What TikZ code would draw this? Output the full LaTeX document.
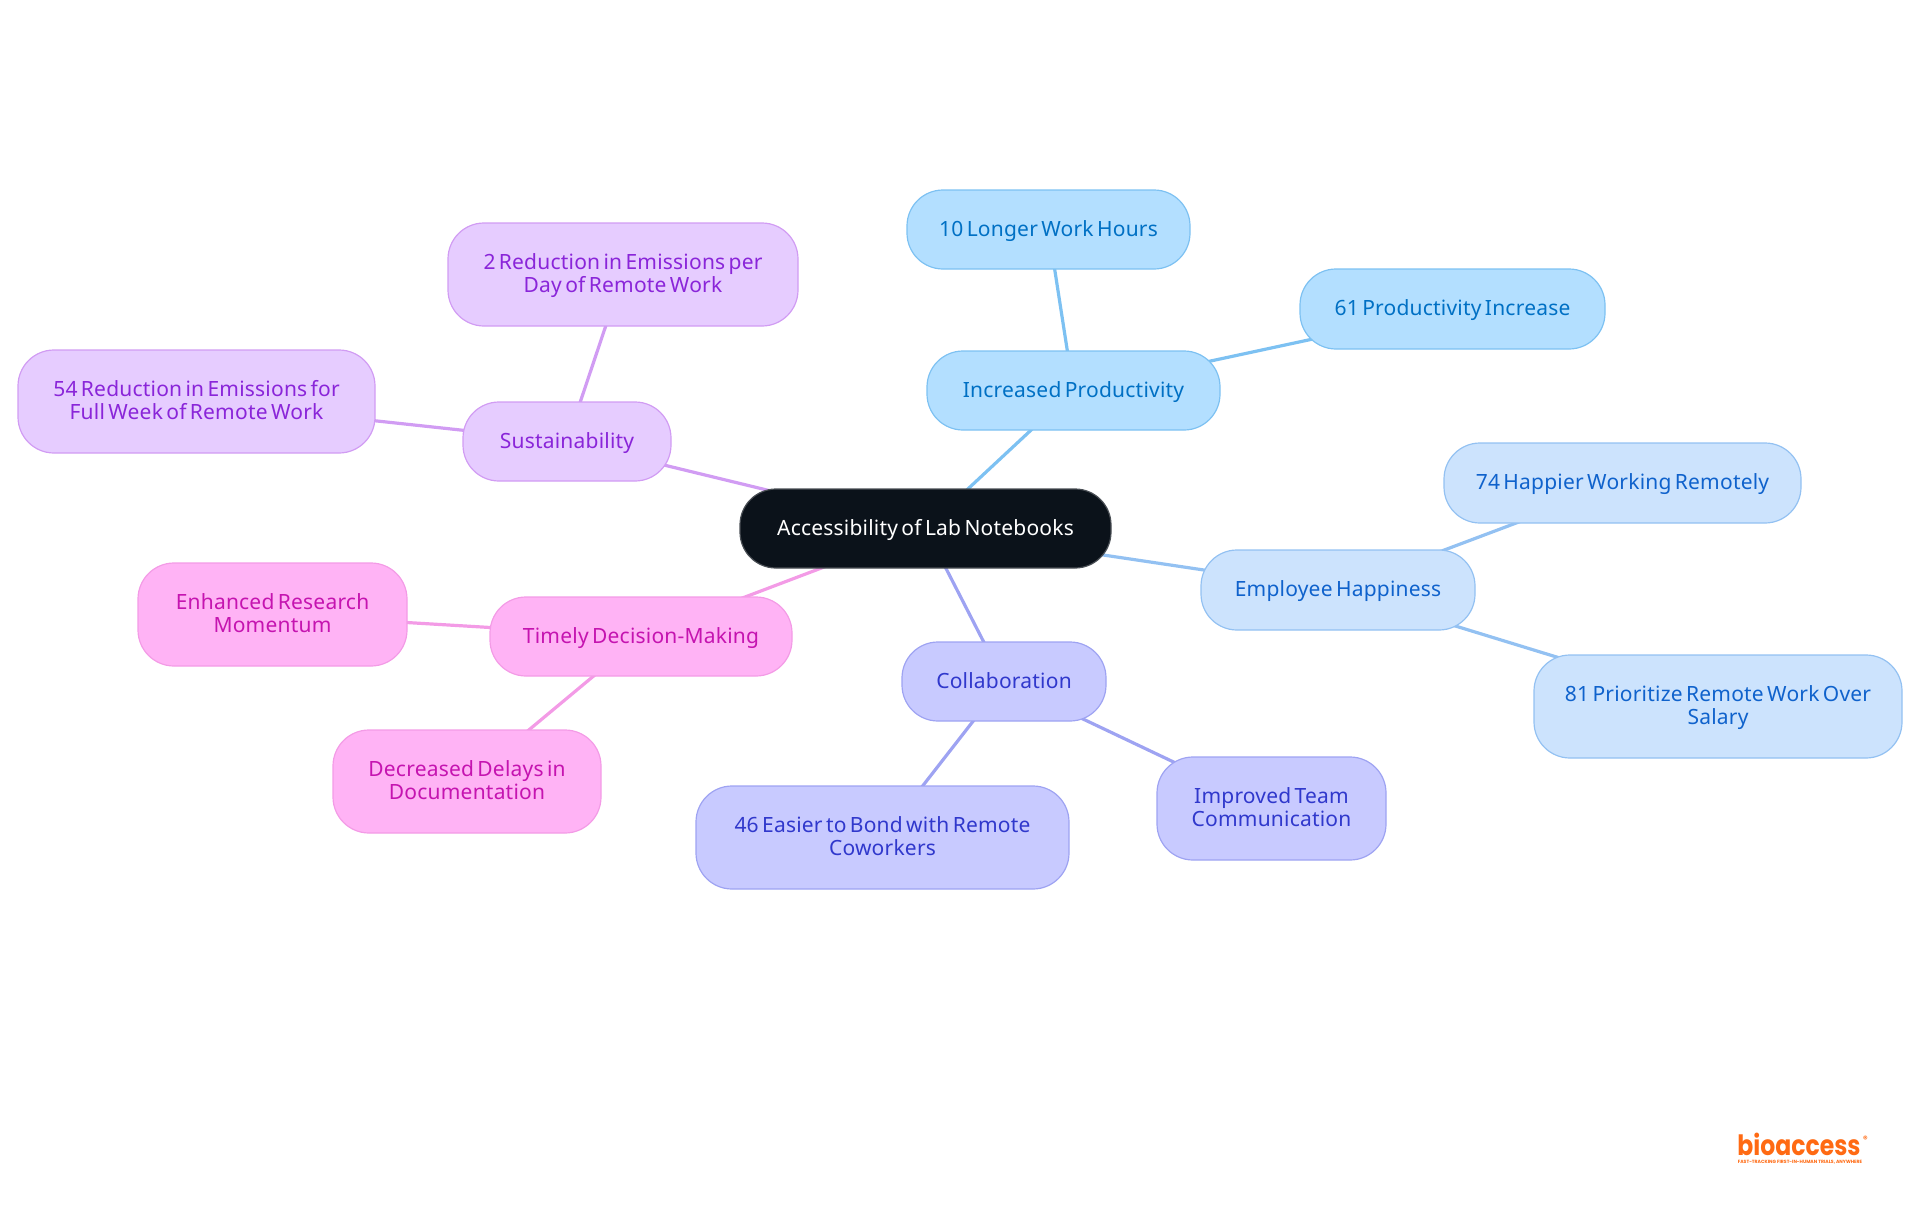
\documentclass[tikz,border=0pt]{standalone}
\usepackage{fontspec}
\setmainfont{Noto Sans}[WordSpace=0.6,LetterSpace=1.0]
\newfontfamily\logofont{Poppins}
\usetikzlibrary{backgrounds}
\definecolor{rootfill}{HTML}{0B121A}
\definecolor{rootline}{HTML}{4A4F55}
\definecolor{prodfill}{HTML}{B3DFFF}\definecolor{prodline}{HTML}{7DC1F2}\definecolor{prodtext}{HTML}{0070C4}
\definecolor{hapfill}{HTML}{CCE3FD}\definecolor{hapline}{HTML}{93C1F2}\definecolor{haptext}{HTML}{0F62CC}
\definecolor{colfill}{HTML}{C8CAFF}\definecolor{colline}{HTML}{9EA3F2}\definecolor{coltext}{HTML}{3038CC}
\definecolor{timfill}{HTML}{FFB3F5}\definecolor{timline}{HTML}{F39BE6}\definecolor{timtext}{HTML}{C514B0}
\definecolor{susfill}{HTML}{E6CCFF}\definecolor{susline}{HTML}{D19CF3}\definecolor{sustext}{HTML}{8A25D9}
\definecolor{logoorange}{HTML}{FF6A13}
\newcommand\tops{\rule{0pt}{18.5pt}}
\newcommand\bots{\rule[-5pt]{0pt}{5pt}}
\tikzset{
  x=1pt,y=-1pt,
  mapbox/.style={draw,line width=1.2pt,rounded corners=36pt,inner sep=0pt,align=center,
    font=\fontsize{21}{23}\selectfont},
  rootbox/.style={mapbox,fill=rootfill,draw=rootline,text=white},
  prodbox/.style={mapbox,fill=prodfill,draw=prodline,text=prodtext},
  hapbox/.style={mapbox,fill=hapfill,draw=hapline,text=haptext},
  colbox/.style={mapbox,fill=colfill,draw=colline,text=coltext},
  timbox/.style={mapbox,fill=timfill,draw=timline,text=timtext},
  susbox/.style={mapbox,fill=susfill,draw=susline,text=sustext},
  link/.style={line width=3.2pt},
  sz/.style n args={2}{minimum width=#1pt,minimum height=#2pt},
}
\begin{document}
\begin{tikzpicture}
\useasboundingbox (0,0) rectangle (1920,1215);
\node[rootbox,sz={371}{79}] (root) at (925.5,528.5) {\tops Accessibility of Lab Notebooks\bots};
\node[prodbox,sz={293}{79}] (ip) at (1073.5,390.5) {\tops Increased Productivity\bots};
\node[prodbox,sz={283}{79}] (lh) at (1048.5,229.5) {\tops 10 Longer Work Hours\bots};
\node[prodbox,sz={305}{80}] (pi) at (1452.5,309) {\tops 61 Productivity Increase\bots};
\node[hapbox,sz={274}{80}] (eh) at (1338,590) {\tops Employee Happiness\bots};
\node[hapbox,sz={357}{80}] (hw) at (1622.5,483) {\tops 74 Happier Working Remotely\bots};
\node[hapbox,sz={368}{103}] (pr) at (1718,706.5) {\tops 81 Prioritize Remote Work Over\\Salary\bots};
\node[colbox,sz={204}{79}] (co) at (1004,681.5) {\tops Collaboration\bots};
\node[colbox,sz={373}{103}] (eb) at (882.5,837.5) {\tops 46 Easier to Bond with Remote\\Coworkers\bots};
\node[colbox,sz={229}{103}] (it) at (1271.5,808.5) {\tops Improved Team\\Communication\bots};
\node[timbox,sz={302}{79}] (td) at (641,636.5) {\tops Timely Decision-Making\bots};
\node[timbox,sz={269}{103}] (er) at (272.5,614.5) {\tops Enhanced Research\\Momentum\bots};
\node[timbox,sz={268}{103}] (dd) at (467,781.5) {\tops Decreased Delays in\\Documentation\bots};
\node[susbox,sz={208}{79}] (su) at (567,441.5) {\tops Sustainability\bots};
\node[susbox,sz={350}{103}] (rd) at (623,274.5) {\tops 2 Reduction in Emissions per\\Day of Remote Work\bots};
\node[susbox,sz={357}{103}] (rw) at (196.5,401.5) {\tops 54 Reduction in Emissions for\\Full Week of Remote Work\bots};
\begin{scope}[on background layer]
\draw[link,prodline] (root.center) -- (ip.center);
\draw[link,prodline] (ip.center) -- (lh.center);
\draw[link,prodline] (ip.center) -- (pi.center);
\draw[link,hapline] (root.center) -- (eh.center);
\draw[link,hapline] (eh.center) -- (hw.center);
\draw[link,hapline] (eh.center) -- (pr.center);
\draw[link,colline] (root.center) -- (co.center);
\draw[link,colline] (co.center) -- (eb.center);
\draw[link,colline] (co.center) -- (it.center);
\draw[link,timline] (root.center) -- (td.center);
\draw[link,timline] (td.center) -- (er.center);
\draw[link,timline] (td.center) -- (dd.center);
\draw[link,susline] (root.center) -- (su.center);
\draw[link,susline] (su.center) -- (rd.center);
\draw[link,susline] (su.center) -- (rw.center);
\end{scope}
\node[inner sep=0pt,anchor=base,text=logoorange,font=\logofont\bfseries\fontsize{28}{28}\selectfont] (logo) at (1799,1155) {\scalebox{.84}[1]{bioaccess}};
\node[inner sep=0pt,anchor=center,text=logoorange,font=\logofont\bfseries\fontsize{9}{9}\selectfont] (mark) at (1865.5,1139) {®};
\node[inner sep=0pt,anchor=center,text=logoorange,font=\logofont\bfseries\fontsize{4.6}{5}\selectfont] (tag) at (1800,1162.5) {FAST-TRACKING FIRST-IN-HUMAN TRIALS, ANYWHERE};
\end{tikzpicture}
\end{document}
